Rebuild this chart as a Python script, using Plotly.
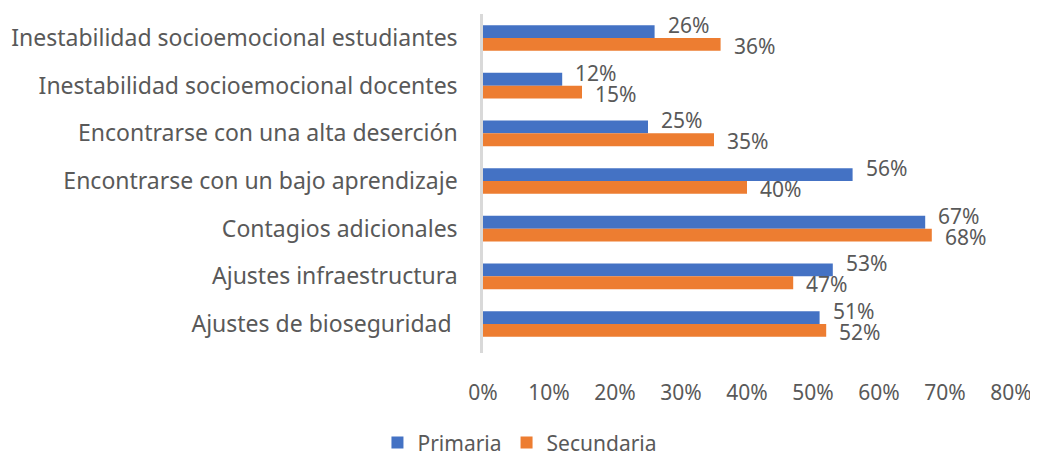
import plotly.graph_objects as go

categories = [
    "Inestabilidad socioemocional estudiantes",
    "Inestabilidad socioemocional docentes",
    "Encontrarse con una alta deserción",
    "Encontrarse con un bajo aprendizaje",
    "Contagios adicionales",
    "Ajustes infraestructura",
    "Ajustes de bioseguridad ",
]
primaria = [0.26, 0.12, 0.25, 0.56, 0.67, 0.53, 0.51]
secundaria = [0.36, 0.15, 0.35, 0.40, 0.68, 0.47, 0.52]
tick_vals = [0, 0.1, 0.2, 0.3, 0.4, 0.5, 0.6, 0.7, 0.8]

FONT = "Noto Sans"
GRAY = "#595959"
BLUE = "#4472C4"
ORANGE = "#ED7D31"

fig = go.Figure()
fig.add_trace(go.Bar(y=categories, x=primaria, name="Primaria", orientation="h",
                     marker=dict(color=BLUE, line=dict(width=0))))
fig.add_trace(go.Bar(y=categories, x=secundaria, name="Secundaria", orientation="h",
                     marker=dict(color=ORANGE, line=dict(width=0))))

for series, ysh in ((primaria, 13), (secundaria, -8)):
    for c, v in zip(categories, series):
        fig.add_annotation(x=v, y=c, text=f"{round(v*100)}%", showarrow=False,
                           xanchor="left", yanchor="middle", xshift=11, yshift=ysh,
                           font=dict(family=FONT, size=21, color=GRAY))

# the page body adds an 8px offset, so margins are reduced accordingly
fig.update_layout(
    width=1030, height=458,
    margin=dict(l=475, r=27, t=6, b=113, autoexpand=False),
    paper_bgcolor="white", plot_bgcolor="white",
    barmode="group", bargap=0.46, bargroupgap=0,
    font=dict(family=FONT, size=21, color=GRAY),
    showlegend=True,
    legend=dict(orientation="h", x=0.07, xanchor="center", y=-0.265, yanchor="middle",
                font=dict(family=FONT, size=21, color=GRAY), itemwidth=30,
                traceorder="normal"),
)
fig.update_xaxes(range=[0, 0.8], tickvals=tick_vals, tickformat=".0%", automargin=False,
                 showgrid=False, zeroline=False, showline=False, ticks="",
                 ticklabelstandoff=25, tickfont=dict(family=FONT, size=21, color=GRAY))
fig.update_yaxes(autorange="reversed", showgrid=False, zeroline=False, automargin=False,
                 showline=True, linecolor="#d9d9d9", linewidth=2.5, ticks="",
                 ticklabelstandoff=18, tickfont=dict(family=FONT, size=23, color=GRAY))

fig.write_html("out.html")
